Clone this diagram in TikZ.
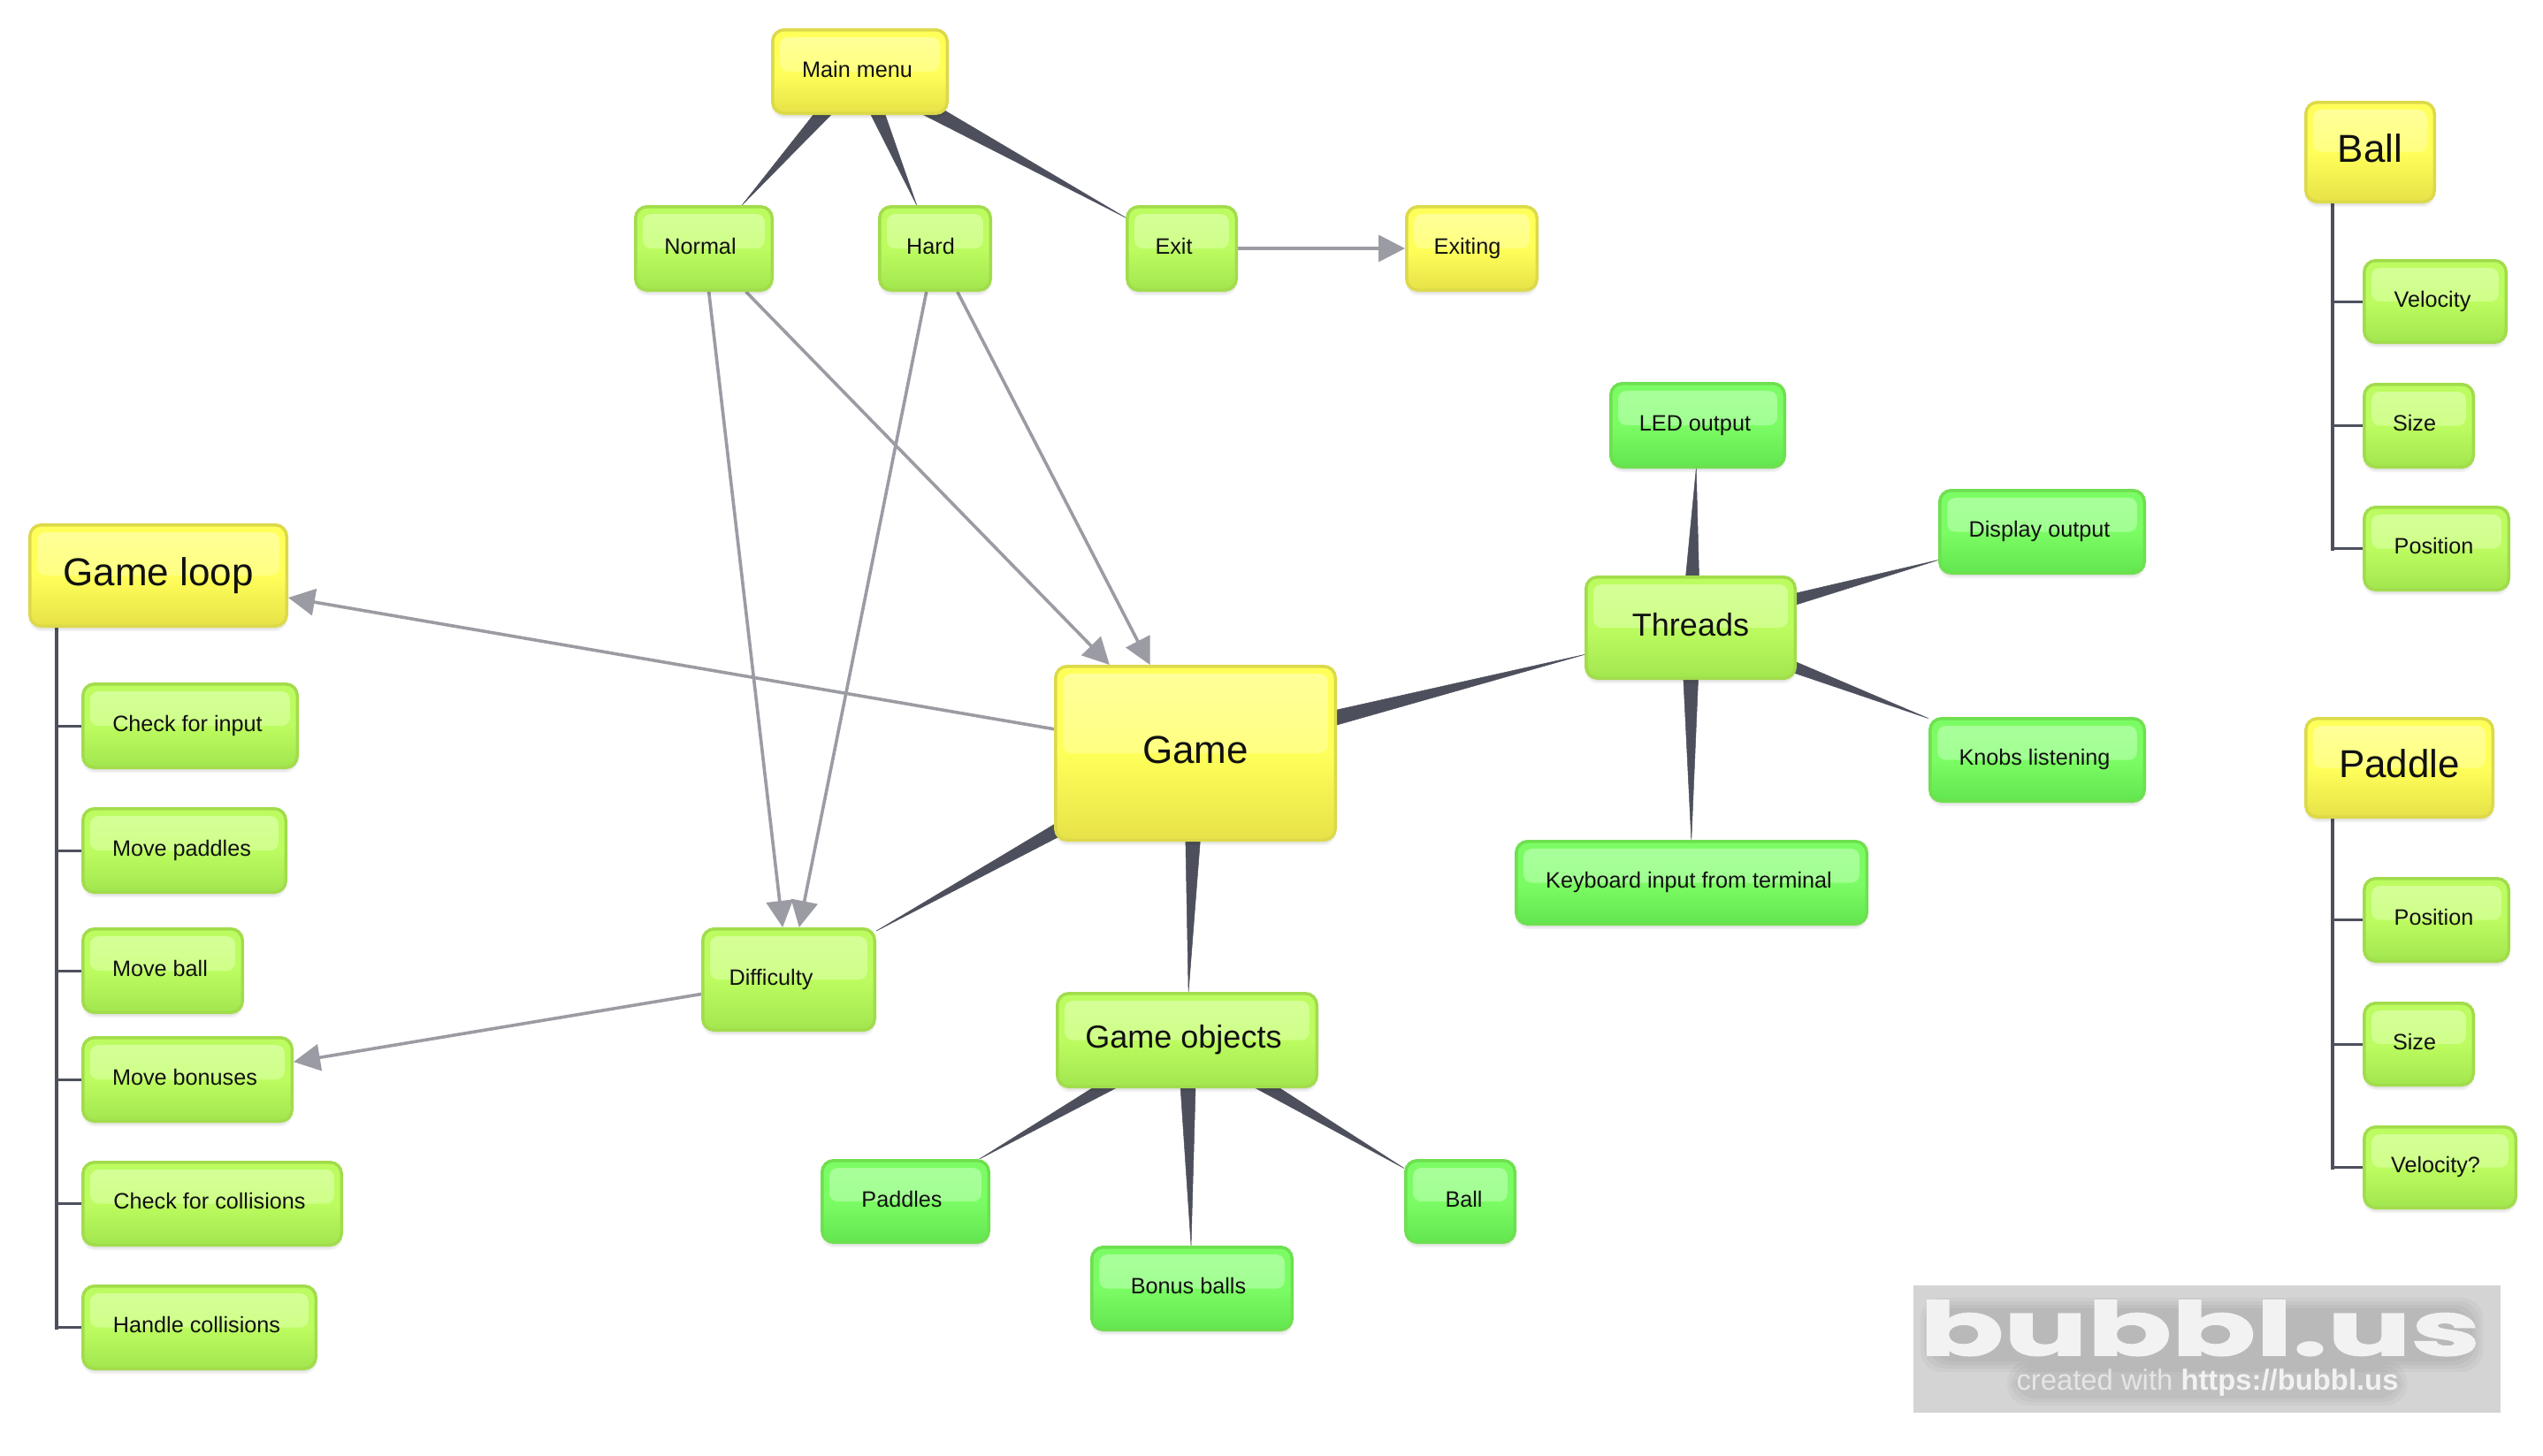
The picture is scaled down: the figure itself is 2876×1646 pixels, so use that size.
\documentclass[tikz,border=0pt]{standalone}
\usepackage{fontspec}
\setmainfont{Liberation Sans}
\newfontfamily\logofont[FakeStretch=1.67,BoldFeatures={FakeBold=2}]{Poppins}
\usetikzlibrary{calc,arrows.meta}
\pgfdeclarelayer{background}
\pgfsetlayers{background,main}
\definecolor{wedgecol}{HTML}{4D505C}
\definecolor{arrcol}{HTML}{9B9CA3}
\definecolor{textcol}{HTML}{111111}
\tikzset{
  bubbase/.style={rounded corners=6.5pt,line width=1.75pt,inner sep=0pt,text=textcol,
    path picture={\shade[rounded corners=4.5pt,top color=hltop,bottom color=hlbot,middle color=hlmid]
      ($(path picture bounding box.north west)+(4.2pt,-4.2pt)$) rectangle
      ($(path picture bounding box.east)+(-4.2pt,0pt)$);}},
  ylw/.style={draw=yborder,top color=ytop,bottom color=ybot,middle color=ytop,
    /utils/exec={\colorlet{hltop}{yhl}\colorlet{hlbot}{yhlb}\colorlet{hlmid}{yhl!50!yhlb}}},
  lime/.style={draw=lborder,top color=ltop,bottom color=lbot,middle color=ltop,
    /utils/exec={\colorlet{hltop}{lhl}\colorlet{hlbot}{lhlb}\colorlet{hlmid}{lhl!50!lhlb}}},
  leaf/.style={draw=gborder,top color=gtop,bottom color=gbot,middle color=gtop,
    /utils/exec={\colorlet{hltop}{ghl}\colorlet{hlbot}{ghlb}\colorlet{hlmid}{ghl!50!ghlb}}},
  bubS/.style={font=\fontsize{12.6}{14}\selectfont,text height=9pt,text depth=3pt},
  bubM/.style={font=\fontsize{18}{20}\selectfont,text height=13pt,text depth=4pt},
  bubL/.style={font=\fontsize{22}{24}\selectfont,text height=16pt,text depth=5pt},
  arr/.style={draw=arrcol,line width=1.8pt,-{Triangle[length=15pt,width=15pt]}},
  tree/.style={draw=wedgecol,line width=2pt,line cap=rect},
  twig/.style={draw=wedgecol,line width=1.5pt},
  shadowlayer/.style={fill=black,opacity=.05,rounded corners=7pt},
  halo/.style={fill=black,opacity=.03,rounded corners=12pt},
}
\definecolor{yborder}{HTML}{DCD94A}\definecolor{ytop}{HTML}{FFFF5A}\definecolor{ybot}{HTML}{E6E248}
\definecolor{yhl}{HTML}{FFFF9C}\definecolor{yhlb}{HTML}{FFFF66}
\definecolor{lborder}{HTML}{A2DC4C}\definecolor{ltop}{HTML}{BCFC60}\definecolor{lbot}{HTML}{A2E64E}
\definecolor{lhl}{HTML}{D6FF9A}\definecolor{lhlb}{HTML}{C8FF78}
\definecolor{gborder}{HTML}{6EE050}\definecolor{gtop}{HTML}{7CFC64}\definecolor{gbot}{HTML}{62E650}
\definecolor{ghl}{HTML}{AAFF9C}\definecolor{ghlb}{HTML}{98FF88}
% name x1 y1 x2 y2 colour size shift text
\newcommand{\bub}[9]{%
  \fill[shadowlayer] (#2+1,#3+2) rectangle (#4-1,#5+4);
  \fill[shadowlayer] (#2+2,#3+2) rectangle (#4-2,#5+2);
  \node[bubbase,#6,#7,minimum width={(#4-#2)*0.5pt-1.75pt},minimum height={(#5-#3)*0.5pt-1.75pt}]
    (#1) at ({(#2+#4)/2},{(#3+#5)/2}) {\hspace*{-#8pt}#9};
}
% tapered link from parent centre to the border of the child
\newcommand{\taper}[3]{%
  \path (#1.center) -- (#2) coordinate[pos=1] (tip#1#2);
  \fill[wedgecol,draw=wedgecol,line width=.25pt,line join=miter]
    ($(#1.center)!#3pt!90:(tip#1#2)$) -- ($(#1.center)!#3pt!-90:(tip#1#2)$) -- (tip#1#2) -- cycle;
}
\begin{document}
\begin{tikzpicture}[x=0.5pt,y=-0.5pt]
\useasboundingbox (0,0) rectangle (2876,1646);

% watermark
\fill[fill=black!17] (2164,1454) -- (2828,1454) -- (2828,1598) -- (2164,1598) -- cycle;
\foreach \d in {0,4,8,12}{
  \fill[halo] (2172+\d,1468+\d) rectangle (2808-\d,1552-\d);
}
\foreach \d in {0,4,8}{
  \fill[halo] (2270+\d,1540+\d) rectangle (2722-\d,1590-\d);
}
\node[inner sep=0pt,anchor=base,text=black!5,font=\logofont\bfseries\fontsize{42}{44}\selectfont] (logo) at (2488,1533) {bubbl.us};
\node[inner sep=0pt,anchor=base,text=black!10,font=\fontsize{16.4}{18}\selectfont] (logotext) at (2496.5,1572)
    {created with \textcolor{black!5}{\textbf{https://bubbl.us}}};

% top cluster
\bub{menu}{872}{32}{1073}{130}{ylw}{bubS}{3}{Main menu}
\bub{normal}{717}{232}{875}{330}{lime}{bubS}{4}{Normal}
\bub{hard}{993}{232}{1122}{330}{lime}{bubS}{5}{Hard}
\bub{exit}{1273}{232}{1400}{330}{lime}{bubS}{9}{Exit}
\bub{exiting}{1589}{232}{1740}{330}{ylw}{bubS}{5}{Exiting}

% centre
\bub{game}{1192}{752}{1512}{952}{ylw}{bubL}{0}{Game}
\bub{gameloop}{32}{592}{326}{710}{ylw}{bubL}{0}{Game loop}
\bub{difficulty}{793}{1049}{991}{1167}{lime}{bubS}{20}{Difficulty}
\bub{objects}{1194}{1122}{1491}{1231}{lime}{bubM}{4}{Game objects}
\bub{threads}{1792}{651}{2032}{769}{lime}{bubM}{0}{Threads}

% game loop children
\bub{input}{92}{772}{338}{870}{lime}{bubS}{3}{Check for input}
\bub{movepad}{92}{913}{325}{1011}{lime}{bubS}{3}{Move paddles}
\bub{moveball}{92}{1049}{276}{1147}{lime}{bubS}{3}{Move ball}
\bub{movebon}{92}{1172}{332}{1270}{lime}{bubS}{3}{Move bonuses}
\bub{checkcol}{92}{1313}{388}{1410}{lime}{bubS}{3}{Check for collisions}
\bub{handle}{92}{1453}{359}{1550}{lime}{bubS}{3}{Handle collisions}

% objects
\bub{paddles}{928}{1311}{1120}{1407}{leaf}{bubS}{4}{Paddles}
\bub{bonus}{1233}{1409}{1463}{1506}{leaf}{bubS}{4}{Bonus balls}
\bub{greenball}{1588}{1311}{1715}{1407}{leaf}{bubS}{-4}{Ball}

% threads
\bub{led}{1820}{432}{2020}{530}{leaf}{bubS}{3}{LED output}
\bub{display}{2192}{553}{2427}{650}{leaf}{bubS}{3}{Display output}
\bub{knobs}{2181}{811}{2427}{908}{leaf}{bubS}{3}{Knobs listening}
\bub{keyboard}{1713}{950}{2113}{1047}{leaf}{bubS}{3}{Keyboard input from terminal}

% right trees
\bub{ballroot}{2606}{114}{2755}{230}{ylw}{bubL}{0}{Ball}
\bub{bvel}{2672}{293}{2836}{389}{lime}{bubS}{3}{Velocity}
\bub{bsize}{2672}{433}{2799}{530}{lime}{bubS}{5}{Size}
\bub{bpos}{2672}{572}{2839}{669}{lime}{bubS}{3}{Position}
\bub{padroot}{2606}{811}{2821}{926}{ylw}{bubL}{0}{Paddle}
\bub{ppos}{2672}{992}{2839}{1089}{lime}{bubS}{3}{Position}
\bub{psize}{2672}{1133}{2799}{1229}{lime}{bubS}{5}{Size}
\bub{pvel}{2672}{1273}{2847}{1368}{lime}{bubS}{5}{Velocity?}

\begin{pgfonlayer}{background}
  \fill[white] (0,0) rectangle (2876,1646);
  % tapered links
  \taper{menu}{normal}{5.5}
  \taper{menu}{hard}{5.5}
  \taper{menu}{exit}{5.5}
  \taper{game}{threads}{6.5}
  \taper{game}{difficulty}{6.5}
  \taper{game}{objects}{6.5}
  \taper{objects}{paddles}{5.5}
  \taper{objects}{bonus}{5.5}
  \taper{objects}{greenball}{5.5}
  \taper{threads}{led}{5.5}
  \taper{threads}{display}{5.5}
  \taper{threads}{knobs}{5.5}
  \taper{threads}{keyboard}{5.5}
  % arrows
  \draw[arr] (exit) -- (exiting);
  \draw[arr] (normal) -- (difficulty);
  \draw[arr] (hard) -- (difficulty);
  \draw[arr] (normal) -- (game);
  \draw[arr] (hard) -- (game);
  \draw[arr] (game) -- (gameloop);
  \draw[arr] (difficulty) -- (movebon);
  % tree links
  \coordinate (glstem) at ($(gameloop.south west)+(32,0)$);
  \coordinate (bstem) at ($(ballroot.south west)+(32,0)$);
  \coordinate (pstem) at ($(padroot.south west)+(32,0)$);
  \draw[tree] (glstem) -- (glstem |- handle.west);
  \draw[tree] (bstem) -- (bstem |- bpos.west);
  \draw[tree] (pstem) -- (pstem |- pvel.west);
  \foreach \c in {input,movepad,moveball,movebon,checkcol,handle}
    \draw[twig] (glstem |- \c.west) -- (\c.west);
  \foreach \c in {bvel,bsize,bpos}
    \draw[twig] (bstem |- \c.west) -- (\c.west);
  \foreach \c in {ppos,psize,pvel}
    \draw[twig] (pstem |- \c.west) -- (\c.west);
\end{pgfonlayer}
\end{tikzpicture}
\end{document}
